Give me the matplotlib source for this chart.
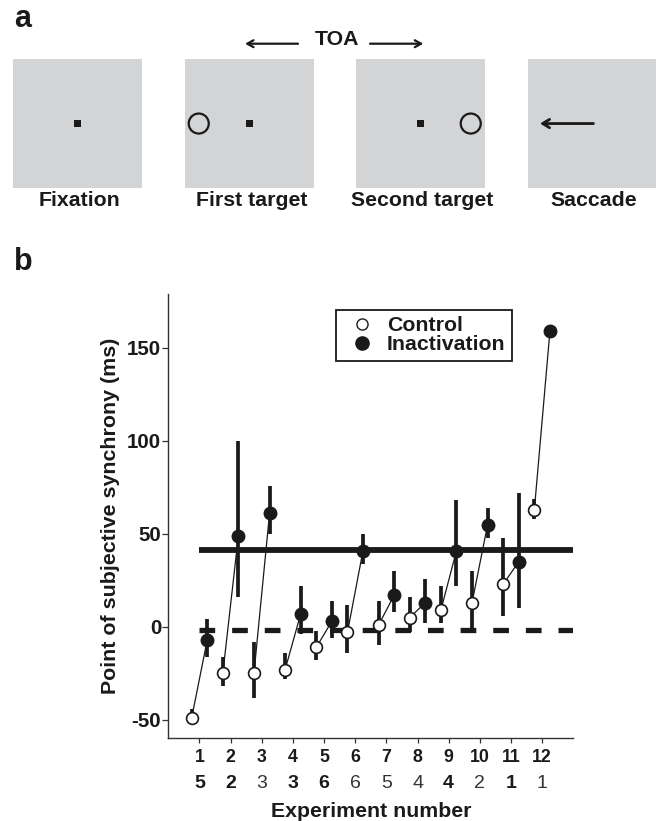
import numpy as np
import matplotlib
matplotlib.use("Agg")
import matplotlib.pyplot as plt
from matplotlib.patches import Rectangle, Circle
from matplotlib.lines import Line2D

plt.rcParams['font.family'] = ['Liberation Sans', 'DejaVu Sans']
plt.rcParams['axes.unicode_minus'] = False
plt.rcParams['lines.scale_dashes'] = False

# ---- data (panel b) ----
experiments = np.arange(1, 13)
control = [-49, -25, -25, -23, -11, -3, 1, 5, 9, 13, 23, 63]
control_lo = [-51, -32, -38, -28, -18, -14, -10, -3, 2, -1, 6, 58]
control_hi = [-44, -16, -8, -14, -2, 12, 14, 16, 22, 30, 48, 69]
inactivation = [-7, 49, 61, 7, 3, 41, 17, 13, 41, 55, 35, 159]
inact_lo = [-16, 16, 50, -4, -6, 34, 8, 2, 22, 48, 10, 159]
inact_hi = [4, 100, 76, 22, 14, 50, 30, 26, 68, 64, 72, 159]
control_mean = -1.8
inact_mean = 41.4
sessions = ['5', '2', '3', '3', '6', '6', '5', '4', '4', '2', '1', '1']
sessions_bold = [True, True, False, True, True, False, False, False, True, False, True, False]

# ---- panel a labels ----
frame_labels = ['Fixation', 'First target', 'Second target', 'Saccade']

INK = '#1a1a1a'
fig = plt.figure(figsize=(6.6, 8.21), dpi=100)

# pixel-space axes for the schematic and panel letters
px = fig.add_axes([0, 0, 1, 1], zorder=0)
px.set_xlim(0, 660)
px.set_ylim(821, 0)
px.axis('off')

box_left = [13.3, 185, 356, 527.7]
box_size = 128.5
box_top = 59.3
for i, (x0, lab) in enumerate(zip(box_left, frame_labels)):
    px.add_patch(Rectangle((x0, box_top), box_size, box_size, fc='#d3d4d6', ec='none'))
    cx = x0 + box_size / 2
    cy = box_top + box_size / 2
    if i < 3:
        px.add_patch(Rectangle((cx - 3.5, cy - 3.5), 7, 7, fc=INK, ec='none'))
    if i == 1:
        px.add_patch(Circle((cx - 50.5, cy), 10, fc='none', ec=INK, lw=1.6))
    if i == 2:
        px.add_patch(Circle((cx + 50.5, cy), 10, fc='none', ec=INK, lw=1.6))
    if i == 3:
        px.annotate('', xy=(cx - 52, cy), xytext=(cx + 1.5, cy),
                    arrowprops=dict(arrowstyle='->,head_length=0.5,head_width=0.3',
                                    lw=2.0, color=INK, shrinkA=0, shrinkB=0))
    px.text(cx + 2, 200, lab, ha='center', va='center', fontsize=15.3,
            fontweight='bold', color=INK)

px.text(336.7, 39.5, 'TOA', ha='center', va='center', fontsize=15.3,
        fontweight='bold', color=INK)
px.annotate('', xy=(245, 43.7), xytext=(298, 43.7),
            arrowprops=dict(arrowstyle='->,head_length=0.45,head_width=0.25',
                            lw=1.6, color=INK, shrinkA=0, shrinkB=0))
px.annotate('', xy=(423.3, 43.7), xytext=(370, 43.7),
            arrowprops=dict(arrowstyle='->,head_length=0.45,head_width=0.25',
                            lw=1.6, color=INK, shrinkA=0, shrinkB=0))

px.text(14, 27, 'a', ha='left', va='baseline', fontsize=22, fontweight='bold', color=INK)
px.text(14, 270, 'b', ha='left', va='baseline', fontsize=22, fontweight='bold', color=INK)

# ---- panel b ----
ax = fig.add_axes([168.3 / 660, 83.3 / 821, 405 / 660, 443.7 / 821], zorder=1)
ax.patch.set_alpha(0)

xc = experiments - 0.25
xi = experiments + 0.25

ax.plot([1, 13], [inact_mean, inact_mean], color=INK, lw=4.2, solid_capstyle='butt', zorder=1)
ax.plot([1, 13], [control_mean, control_mean], color=INK, lw=3.8,
        dashes=(11.3, 12.2), solid_capstyle='butt', dash_capstyle='butt', zorder=1)

ax.vlines(xc, control_lo, control_hi, color=INK, lw=2.7, zorder=2)
ax.vlines(xi, inact_lo, inact_hi, color=INK, lw=2.7, zorder=2)

for k in range(len(experiments)):
    ax.plot([xc[k], xi[k]], [control[k], inactivation[k]], color=INK, lw=0.9, zorder=3)

ax.plot(xc, control, 'o', ms=8.5, mfc='white', mec=INK, mew=1.2, ls='none', zorder=4)
ax.plot(xi, inactivation, 'o', ms=9, mfc=INK, mec=INK, mew=1.0, ls='none', zorder=4)

ax.set_xlim(0, 13)
ax.set_ylim(-59.6, 179)
ax.set_yticks([-50, 0, 50, 100, 150])
ax.set_yticklabels(['-50', '0', '50', '100', '150'], fontsize=14.8, fontweight='bold', color=INK)
ax.set_xticks(experiments)
ax.set_xticklabels([str(e) for e in experiments], fontsize=12.8, fontweight='bold', color=INK)
ax.tick_params(axis='y', length=4.5, width=0.9, pad=0.5, color='#333333')
ax.tick_params(axis='x', length=3.4, width=0.9, pad=5, color='#333333')
for s in ['top', 'right']:
    ax.spines[s].set_visible(False)
for s in ['left', 'bottom']:
    ax.spines[s].set_linewidth(1.0)
    ax.spines[s].set_color('#333333')

# second row of tick labels
trans = ax.get_xaxis_transform()
for x, lab, b in zip(experiments, sessions, sessions_bold):
    ax.text(x, -46 / 443.7, lab, transform=trans, ha='center', va='center',
            fontsize=14, fontweight='bold' if b else 'light',
            color=INK if b else '#333333')

ax.text(0.5, -74 / 443.7, 'Experiment number', transform=ax.transAxes,
        ha='center', va='center', fontsize=15.3, fontweight='bold', color=INK)
ax.text(-58.3 / 405, 0.5, 'Point of subjective synchrony (ms)', transform=ax.transAxes,
        ha='center', va='center', rotation=90, fontsize=15.4, fontweight='bold', color=INK)

handles = [
    Line2D([], [], marker='o', ls='none', ms=8, mfc='white', mec=INK, mew=1.0),
    Line2D([], [], marker='o', ls='none', ms=9.5, mfc=INK, mec=INK),
]
leg = ax.legend(handles, ['Control', 'Inactivation'], loc='upper left',
                bbox_to_anchor=((336 - 168.3) / 405, (737.7 - 310) / 443.7),
                borderaxespad=0, frameon=True, fancybox=False, framealpha=1,
                edgecolor=INK, borderpad=0.3, handlelength=1.8, handletextpad=0.3,
                labelspacing=0.0, prop={'size': 15.3, 'weight': 'bold'})
leg.get_frame().set_linewidth(1.3)
for t in leg.get_texts():
    t.set_color(INK)

fig.savefig('out.png', dpi=100)
